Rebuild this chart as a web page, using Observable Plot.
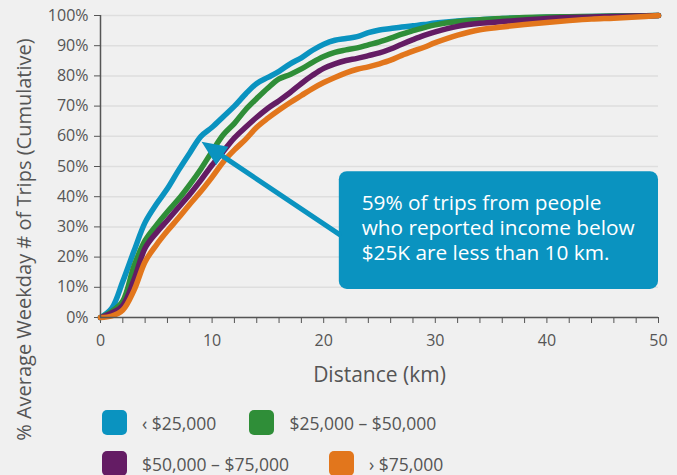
<!DOCTYPE html>
<html>
<head>
<meta charset="utf-8">
<script src="https://cdn.jsdelivr.net/npm/d3@7"></script>
<script src="https://cdn.jsdelivr.net/npm/@observablehq/plot@0.6"></script>
<style>
  html, body { margin: 0; padding: 0; background: #f0f0f0; }
  body { width: 677px; height: 475px; overflow: hidden; font-family: "Open Sans", sans-serif; }
  #chart svg { overflow: visible; }
  #legend { padding-top: 15px; padding-left: 102px; }
  .row { display: flex; align-items: center; height: 25px; margin-bottom: 16px; }
  .item { display: flex; align-items: center; }
  .sw { width: 25px; height: 25px; border-radius: 5px; margin-right: 15px; }
  .lab { font-size: 17.5px; color: #555; }
</style>
</head>
<body>
<div id="chart"></div>
<div id="legend"></div>
<script>
// ---- data ----
const distance = [0,1,2,3,4,5,6,7,8,9,10,11,12,13,14,15,16,17,18,19,20,21,22,23,24,25,26,27,28,29,30,32,34,36,38,40,42,44,46,48,50];
const under25k = [0,3,12,22,31.5,37.5,42.7,48.8,54.5,60,63,66.5,70,74,77.5,79.5,81.5,84,86,88.5,90.5,91.8,92.4,93,94.3,95.2,95.7,96.2,96.6,97,97.5,98.2,98.6,99,99.2,99.4,99.5,99.7,99.8,99.9,100];
const k25to50 = [0,2,5.5,17,25.5,30.5,35,39.2,44,49.2,55,60.5,64.3,68.8,72.5,76,79,80.5,82.3,84.5,86.4,87.8,88.6,89.3,90.3,91.3,92.5,93.8,95,96,96.9,98,98.6,99,99.3,99.5,99.6,99.7,99.8,99.9,100];
const k50to75 = [0,1.5,4,12.5,23,28,32.2,36.5,40.8,45.5,50.5,55,59.5,63,66.3,69.3,71.8,74.5,77.5,80.2,82.5,84,85.1,85.8,86.7,87.6,88.9,90.5,92,93.4,94.6,96.4,97.4,98,98.5,99,99.3,99.5,99.7,99.8,100];
const over75k = [0,0.5,2.5,9,18.5,24,28.7,33,37.5,41.8,46.5,51.5,55.5,59,63,66,68.7,71.2,73.5,75.8,77.8,79.5,81,82.2,83,84,85.2,86.8,88.2,89.5,91,93.5,95.3,96.2,97,97.7,98.3,98.8,99.1,99.5,100];

const seriesNames = ["\u2039 $25,000", "$25,000 \u2013 $50,000", "$50,000 \u2013 $75,000", "\u203A $75,000"];
const seriesColors = ["#0a93c0", "#2f8e38", "#641c64", "#e2761c"];
const seriesValues = [under25k, k25to50, k50to75, over75k];

const xTicks = [0,2,4,6,8,10,12,14,16,18,20,22,24,26,28,30,32,34,36,38,40,42,44,46,48,50];
const xTickLabels = [0,10,20,30,40,50];
const yTicks = [0,10,20,30,40,50,60,70,80,90,100];

const xLabel = "Distance (km)";
const yLabel = "% Average Weekday # of Trips (Cumulative)";
const yLabelPos = {x: -6.8, y: 25.8};

// annotation
const calloutText = "59% of trips from people\nwho reported income below\n$25K are less than 10 km.";
const calloutBox = {x1: 21.4, x2: 50, y1: 9.3, y2: 48.3};
const calloutTextPos = {x: 23.4, y: 30.0};
const arrowFrom = {x: 21.4, y: 27.5};
const arrowTo = {x: 9.1, y: 58};

// ---- chart ----
const font = "'Open Sans', sans-serif";
const lines = seriesValues.map((vals, k) =>
  Plot.line(distance.map((d, i) => ({d, v: vals[i]})), {
    x: "d", y: "v", stroke: seriesColors[k], strokeWidth: 5.5, curve: "catmull-rom", strokeLinejoin: "round"
  })
);

const plot = Plot.plot({
  width: 677,
  height: 395,
  marginLeft: 100,
  marginRight: 19,
  marginTop: 15,
  marginBottom: 78,
  style: {fontFamily: font, fontSize: "16px", background: "transparent", overflow: "visible", color: "#555"},
  x: {domain: [0, 50]},
  y: {domain: [0, 100]},
  marks: [
    Plot.gridY(yTicks, {stroke: "#dedede", strokeOpacity: 1, strokeWidth: 1.5}),
    Plot.axisY({ticks: yTicks, tickFormat: d => d + "%", tickSize: 6, tickPadding: 6, label: null, fontSize: 16, fill: "#555", stroke: "#555"}),
    Plot.axisX({ticks: xTicks, tickFormat: d => xTickLabels.includes(d) ? String(d) : "", tickSize: 6, tickPadding: 11, label: null, fontSize: 16, fill: "#555", stroke: "#555"}),
    ...lines,
    Plot.ruleX([0], {stroke: "#555", strokeWidth: 1.5}),
    Plot.ruleY([0], {stroke: "#555", strokeWidth: 1.5}),
    Plot.text([xLabel], {frameAnchor: "bottom", dy: 64, fontSize: 21, fill: "#555"}),
    Plot.text([yLabel], {x: yLabelPos.x, y: yLabelPos.y, rotate: -90, fontSize: 20, fill: "#555", clip: false}),
    Plot.rect([calloutBox], {x1: "x1", x2: "x2", y1: "y1", y2: "y2", fill: "#0a93c0", rx: 8}),
    Plot.text([calloutText], {x: calloutTextPos.x, y: calloutTextPos.y, textAnchor: "start", lineAnchor: "middle", lineHeight: 1.19, fontSize: 20.8, fill: "white"}),
    Plot.arrow([0], {x1: arrowFrom.x, y1: arrowFrom.y, x2: arrowTo.x, y2: arrowTo.y, stroke: "#0a93c0", strokeWidth: 5, headLength: 0, insetEnd: 14})
  ]
});

// filled arrow head, positioned through the plot's scales
const sx = plot.scale("x"), sy = plot.scale("y");
const tx = sx.apply(arrowTo.x), ty = sy.apply(arrowTo.y);
const fx = sx.apply(arrowFrom.x), fy = sy.apply(arrowFrom.y);
const len = Math.hypot(fx - tx, fy - ty);
const ux = (fx - tx) / len, uy = (fy - ty) / len;
const hl = 25, hw = 11;
const bx = tx + ux * hl, by = ty + uy * hl;
d3.select(plot).append("path")
  .attr("d", `M${tx},${ty}L${bx - uy * hw},${by + ux * hw}L${bx + uy * hw},${by - ux * hw}Z`)
  .attr("fill", "#0a93c0");

document.getElementById("chart").appendChild(plot);

// ---- legend ----
const legend = document.getElementById("legend");
const rows = [[0, 1], [2, 3]];
const gaps = [33, 40];
rows.forEach((r, ri) => {
  const row = document.createElement("div");
  row.className = "row";
  row.style.columnGap = gaps[ri] + "px";
  r.forEach(k => {
    const it = document.createElement("div");
    it.className = "item";
    it.innerHTML = `<div class="sw" style="background:${seriesColors[k]}"></div><span class="lab">${seriesNames[k]}</span>`;
    row.appendChild(it);
  });
  legend.appendChild(row);
});
</script>
</body>
</html>
